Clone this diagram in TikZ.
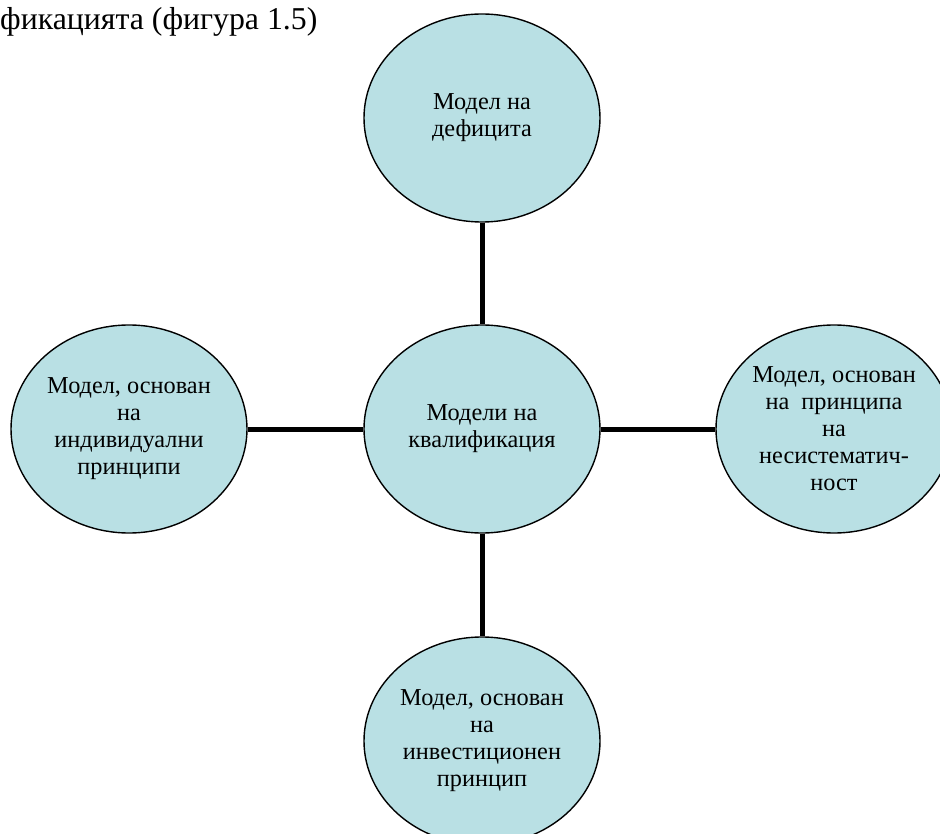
\documentclass[tikz,border=0pt]{standalone}
\usepackage{fontspec}
\setmainfont{Liberation Serif}
\usetikzlibrary{shapes.geometric}
\definecolor{bubblefill}{RGB}{185,224,228}
\begin{document}
\begin{tikzpicture}[x=1pt,y=-1pt,
  bubble/.style={ellipse, draw=black, line width=1.4pt, fill=bubblefill,
    minimum width=236pt, minimum height=208pt, inner sep=0pt,
    align=center, font=\fontsize{24.3}{27}\selectfont},
  link/.style={line width=5pt, draw=black}]
  \useasboundingbox (0,0) rectangle (940,834);
  \begin{scope}
  \clip (0,0) rectangle (940,834);
  \node[anchor=base west, font=\fontsize{31.8}{35}\selectfont, inner sep=0pt]
    (caption) at (0,30) {фикацията (фигура 1.5)};
  \node[bubble] (centre) at (482,429) {Модели на\\квалификация};
  \node[bubble] (deficit) at (482,118) {Модел на\\дефицита};
  \node[bubble] (individual) at (129,429) {Модел, основан\\на\\индивидуални\\принципи};
  \node[bubble] (unsystem) at (834,429) {Модел, основан\\на~ принципа\\на\\несистематич-\\ност};
  \node[bubble] (invest) at (482,741) {Модел, основан\\на\\инвестиционен\\принцип};
  \draw[link] (deficit) -- (centre);
  \draw[link] (individual) -- (centre);
  \draw[link] (centre) -- (unsystem);
  \draw[link] (centre) -- (invest);
  \end{scope}
\end{tikzpicture}
\end{document}
